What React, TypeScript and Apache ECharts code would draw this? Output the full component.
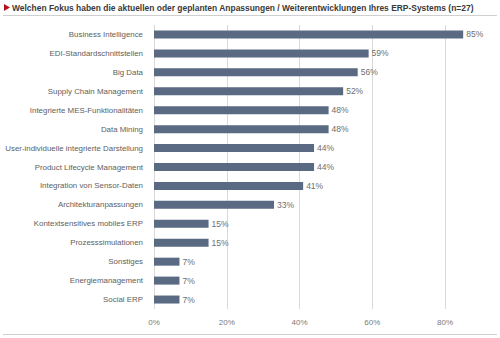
import React, { useEffect, useRef } from "react";
import * as echarts from "echarts";

const title =
  "Welchen Fokus haben die aktuellen oder geplanten Anpassungen / Weiterentwicklungen Ihres ERP-Systems (n=27)";

const categories = [
  "Business Intelligence",
  "EDI-Standardschnittstellen",
  "Big Data",
  "Supply Chain Management",
  "Integrierte MES-Funktionalitäten",
  "Data Mining",
  "User-individuelle integrierte Darstellung",
  "Product Lifecycle Management",
  "Integration von Sensor-Daten",
  "Architekturanpassungen",
  "Kontextsensitives mobiles ERP",
  "Prozesssimulationen",
  "Sonstiges",
  "Energiemanagement",
  "Social ERP",
];

const values = [85, 59, 56, 52, 48, 48, 44, 44, 41, 33, 15, 15, 7, 7, 7];

const FONT = "'Liberation Sans', Arial, sans-serif";

export default function App() {
  const ref = useRef<HTMLDivElement>(null);
  useEffect(() => {
    if (!ref.current) return;
    const chart = echarts.init(ref.current, null, { renderer: "svg" });
    chart.setOption({
      animation: false,
      backgroundColor: "#ffffff",
      textStyle: { fontFamily: FONT },
      graphic: [
        {
          type: "polygon",
          shape: { points: [[4, 4], [4, 11], [10, 7.5]] },
          style: { fill: "#b5121b" },
        },
        {
          type: "text",
          x: 12,
          y: 7.5,
          style: {
            text: title,
            fontFamily: FONT,
            fontSize: 8.45,
            fontWeight: "bold",
            fill: "#3a3a3a",
            verticalAlign: "middle",
          },
        },
        {
          type: "line",
          shape: { x1: 3, y1: 15.5, x2: 497, y2: 15.5 },
          style: { stroke: "#cfcfcf", lineWidth: 1 },
        },
        {
          type: "line",
          shape: { x1: 3, y1: 334.5, x2: 497, y2: 334.5 },
          style: { stroke: "#cfcfcf", lineWidth: 1 },
        },
      ],
      grid: { left: 154, right: 55, top: 25, bottom: 29, containLabel: false },
      xAxis: {
        type: "value",
        min: 0,
        max: 80,
        interval: 20,
        axisLine: { show: false },
        axisTick: { show: false },
        splitLine: { show: true, lineStyle: { color: "#d9d9d9", width: 1 } },
        axisLabel: {
          color: "#7a7a7a",
          fontSize: 8,
          fontFamily: FONT,
          margin: 9,
          formatter: "{value}%",
        },
      },
      yAxis: {
        type: "category",
        data: categories,
        inverse: true,
        axisLine: { show: false },
        axisTick: { show: false },
        splitLine: { show: false },
        axisLabel: { color: "#606060", fontSize: 7.9, fontFamily: FONT, margin: 11 },
      },
      series: [
        {
          type: "bar",
          data: values,
          barWidth: 8,
          clip: false,
          itemStyle: { color: "#5a6a82" },
          label: {
            show: true,
            position: "right",
            distance: 3,
            formatter: "{c}%",
            color: "#6e6e6e",
            fontSize: 8.5,
            fontFamily: FONT,
          },
        },
      ],
    });
    return () => chart.dispose();
  }, []);
  return <div ref={ref} style={{ width: 500, height: 338, position: "absolute", left: 0, top: 0 }} />;
}
